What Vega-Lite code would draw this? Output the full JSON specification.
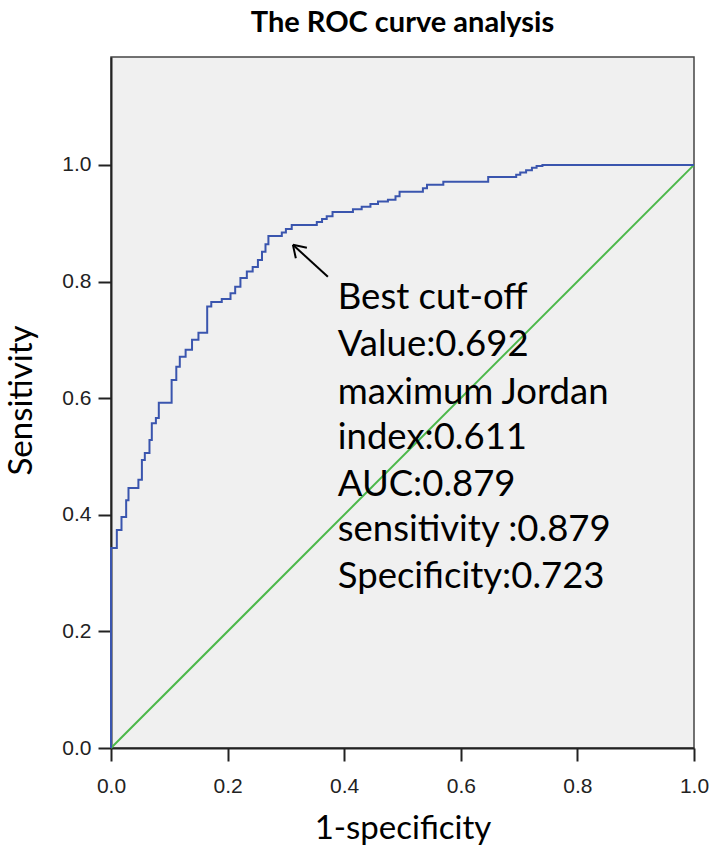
{
  "$schema": "https://vega.github.io/schema/vega-lite/v6.json",
  "width": 583,
  "height": 691,
  "autosize": "none",
  "padding": {"left": 111, "top": 57, "right": 15, "bottom": 104},
  "background": "white",
  "title": {
    "text": "The ROC curve analysis",
    "font": "Lato",
    "fontSize": 29,
    "fontWeight": "bold",
    "color": "#000000",
    "anchor": "middle",
    "frame": "group",
    "baseline": "alphabetic",
    "offset": -4
  },
  "config": {
    "view": {"fill": "#f0f0f0", "stroke": "#444444", "strokeWidth": 1.5},
    "axis": {
      "grid": false,
      "domainColor": "#222222",
      "domainWidth": 2,
      "tickColor": "#222222",
      "tickWidth": 2,
      "tickSize": 13,
      "labelFont": "Liberation Sans",
      "labelFontSize": 21,
      "labelColor": "#222222",
      "labelFlush": false,
      "titleFont": "Lato",
      "titleFontSize": 33,
      "titleFontWeight": "normal",
      "titleColor": "#000000",
      "zindex": 1
    }
  },
  "datasets": {
    "roc": [
      {"i": 0, "x": 0, "y": 0}, {"i": 1, "x": 0, "y": 0.343}, {"i": 2, "x": 0.01, "y": 0.343}, {"i": 3, "x": 0.01, "y": 0.374},
      {"i": 4, "x": 0.018, "y": 0.374}, {"i": 5, "x": 0.018, "y": 0.396}, {"i": 6, "x": 0.026, "y": 0.396}, {"i": 7, "x": 0.026, "y": 0.425},
      {"i": 8, "x": 0.03, "y": 0.425}, {"i": 9, "x": 0.03, "y": 0.446}, {"i": 10, "x": 0.047, "y": 0.446}, {"i": 11, "x": 0.047, "y": 0.46},
      {"i": 12, "x": 0.053, "y": 0.46}, {"i": 13, "x": 0.053, "y": 0.494}, {"i": 14, "x": 0.058, "y": 0.494}, {"i": 15, "x": 0.058, "y": 0.506},
      {"i": 16, "x": 0.066, "y": 0.506}, {"i": 17, "x": 0.066, "y": 0.528}, {"i": 18, "x": 0.07, "y": 0.528}, {"i": 19, "x": 0.07, "y": 0.557},
      {"i": 20, "x": 0.077, "y": 0.557}, {"i": 21, "x": 0.077, "y": 0.566}, {"i": 22, "x": 0.082, "y": 0.566}, {"i": 23, "x": 0.082, "y": 0.592},
      {"i": 24, "x": 0.104, "y": 0.592}, {"i": 25, "x": 0.104, "y": 0.631}, {"i": 26, "x": 0.112, "y": 0.631}, {"i": 27, "x": 0.112, "y": 0.654},
      {"i": 28, "x": 0.118, "y": 0.654}, {"i": 29, "x": 0.118, "y": 0.671}, {"i": 30, "x": 0.128, "y": 0.671}, {"i": 31, "x": 0.128, "y": 0.683},
      {"i": 32, "x": 0.139, "y": 0.683}, {"i": 33, "x": 0.139, "y": 0.7}, {"i": 34, "x": 0.15, "y": 0.7}, {"i": 35, "x": 0.15, "y": 0.712},
      {"i": 36, "x": 0.165, "y": 0.712}, {"i": 37, "x": 0.165, "y": 0.757}, {"i": 38, "x": 0.172, "y": 0.757}, {"i": 39, "x": 0.172, "y": 0.765},
      {"i": 40, "x": 0.19, "y": 0.765}, {"i": 41, "x": 0.19, "y": 0.77}, {"i": 42, "x": 0.205, "y": 0.77}, {"i": 43, "x": 0.205, "y": 0.78},
      {"i": 44, "x": 0.213, "y": 0.78}, {"i": 45, "x": 0.213, "y": 0.791}, {"i": 46, "x": 0.222, "y": 0.791}, {"i": 47, "x": 0.222, "y": 0.806},
      {"i": 48, "x": 0.233, "y": 0.806}, {"i": 49, "x": 0.233, "y": 0.817}, {"i": 50, "x": 0.243, "y": 0.817}, {"i": 51, "x": 0.243, "y": 0.825},
      {"i": 52, "x": 0.252, "y": 0.825}, {"i": 53, "x": 0.252, "y": 0.837}, {"i": 54, "x": 0.259, "y": 0.837}, {"i": 55, "x": 0.259, "y": 0.851},
      {"i": 56, "x": 0.265, "y": 0.851}, {"i": 57, "x": 0.265, "y": 0.864}, {"i": 58, "x": 0.27, "y": 0.864}, {"i": 59, "x": 0.27, "y": 0.878},
      {"i": 60, "x": 0.293, "y": 0.878}, {"i": 61, "x": 0.293, "y": 0.884}, {"i": 62, "x": 0.3, "y": 0.884}, {"i": 63, "x": 0.3, "y": 0.89},
      {"i": 64, "x": 0.31, "y": 0.89}, {"i": 65, "x": 0.31, "y": 0.897}, {"i": 66, "x": 0.353, "y": 0.897}, {"i": 67, "x": 0.353, "y": 0.902},
      {"i": 68, "x": 0.362, "y": 0.902}, {"i": 69, "x": 0.362, "y": 0.907}, {"i": 70, "x": 0.37, "y": 0.907}, {"i": 71, "x": 0.37, "y": 0.912},
      {"i": 72, "x": 0.38, "y": 0.912}, {"i": 73, "x": 0.38, "y": 0.919}, {"i": 74, "x": 0.415, "y": 0.919}, {"i": 75, "x": 0.415, "y": 0.924},
      {"i": 76, "x": 0.43, "y": 0.924}, {"i": 77, "x": 0.43, "y": 0.928}, {"i": 78, "x": 0.445, "y": 0.928}, {"i": 79, "x": 0.445, "y": 0.933},
      {"i": 80, "x": 0.458, "y": 0.933}, {"i": 81, "x": 0.458, "y": 0.937}, {"i": 82, "x": 0.475, "y": 0.937}, {"i": 83, "x": 0.475, "y": 0.94},
      {"i": 84, "x": 0.488, "y": 0.94}, {"i": 85, "x": 0.488, "y": 0.946}, {"i": 86, "x": 0.495, "y": 0.946}, {"i": 87, "x": 0.495, "y": 0.954},
      {"i": 88, "x": 0.535, "y": 0.954}, {"i": 89, "x": 0.535, "y": 0.96}, {"i": 90, "x": 0.542, "y": 0.96}, {"i": 91, "x": 0.542, "y": 0.966},
      {"i": 92, "x": 0.57, "y": 0.966}, {"i": 93, "x": 0.57, "y": 0.971}, {"i": 94, "x": 0.647, "y": 0.971}, {"i": 95, "x": 0.647, "y": 0.979},
      {"i": 96, "x": 0.695, "y": 0.979}, {"i": 97, "x": 0.695, "y": 0.983}, {"i": 98, "x": 0.702, "y": 0.983}, {"i": 99, "x": 0.702, "y": 0.987},
      {"i": 100, "x": 0.712, "y": 0.987}, {"i": 101, "x": 0.712, "y": 0.991}, {"i": 102, "x": 0.722, "y": 0.991}, {"i": 103, "x": 0.722, "y": 0.995},
      {"i": 104, "x": 0.73, "y": 0.995}, {"i": 105, "x": 0.73, "y": 0.998}, {"i": 106, "x": 0.74, "y": 0.998}, {"i": 107, "x": 0.74, "y": 1.0},
      {"i": 108, "x": 1, "y": 1}
    ],
    "reference": [{"x": 0, "y": 0}, {"x": 1, "y": 1}],
    "arrow": [
      {"x": 0.372, "y": 0.808, "x2": 0.312, "y2": 0.863},
      {"x": 0.312, "y": 0.863, "x2": 0.336, "y2": 0.858},
      {"x": 0.312, "y": 0.863, "x2": 0.317, "y2": 0.840}
    ],
    "notes": [
      {"x": 0.389, "y": 0.772, "label": "Best cut-off"},
      {"x": 0.389, "y": 0.691, "label": "Value:0.692"},
      {"x": 0.389, "y": 0.609, "label": "maximum Jordan"},
      {"x": 0.389, "y": 0.532, "label": "index:0.611"},
      {"x": 0.389, "y": 0.451, "label": "AUC:0.879"},
      {"x": 0.389, "y": 0.374, "label": "sensitivity :0.879"},
      {"x": 0.389, "y": 0.293, "label": "Specificity:0.723"}
    ]
  },
  "encoding": {
    "x": {
      "field": "x", "type": "quantitative",
      "scale": {"domain": [0, 1], "nice": false, "zero": false},
      "axis": {"values": [0, 0.2, 0.4, 0.6, 0.8, 1.0], "format": ".1f", "title": "1-specificity",
               "labelPadding": 14, "titleX": 291.5, "titleY": 80, "titleAlign": "center", "titleBaseline": "middle"}
    },
    "y": {
      "field": "y", "type": "quantitative",
      "scale": {"domain": [0, 1.185], "nice": false, "zero": false},
      "axis": {"values": [0, 0.2, 0.4, 0.6, 0.8, 1.0], "format": ".1f", "title": "Sensitivity",
               "labelPadding": 7, "titleX": -90, "titleY": 343, "titleAngle": -90, "titleAlign": "center", "titleBaseline": "middle"}
    }
  },
  "layer": [
    {
      "data": {"name": "reference"},
      "mark": {"type": "line", "color": "#4cb84a", "strokeWidth": 2},
      "encoding": {}
    },
    {
      "data": {"name": "roc"},
      "mark": {"type": "line", "color": "#3a55ae", "strokeWidth": 2},
      "encoding": {"order": {"field": "i", "type": "quantitative"}}
    },
    {
      "data": {"name": "arrow"},
      "mark": {"type": "rule", "color": "#000000", "strokeWidth": 2},
      "encoding": {
        "x2": {"field": "x2"},
        "y2": {"field": "y2"}
      }
    },
    {
      "data": {"name": "notes"},
      "mark": {"type": "text", "align": "left", "baseline": "middle", "font": "Lato", "fontSize": 36.5, "color": "#000000"},
      "encoding": {"text": {"field": "label", "type": "nominal"}}
    }
  ]
}
